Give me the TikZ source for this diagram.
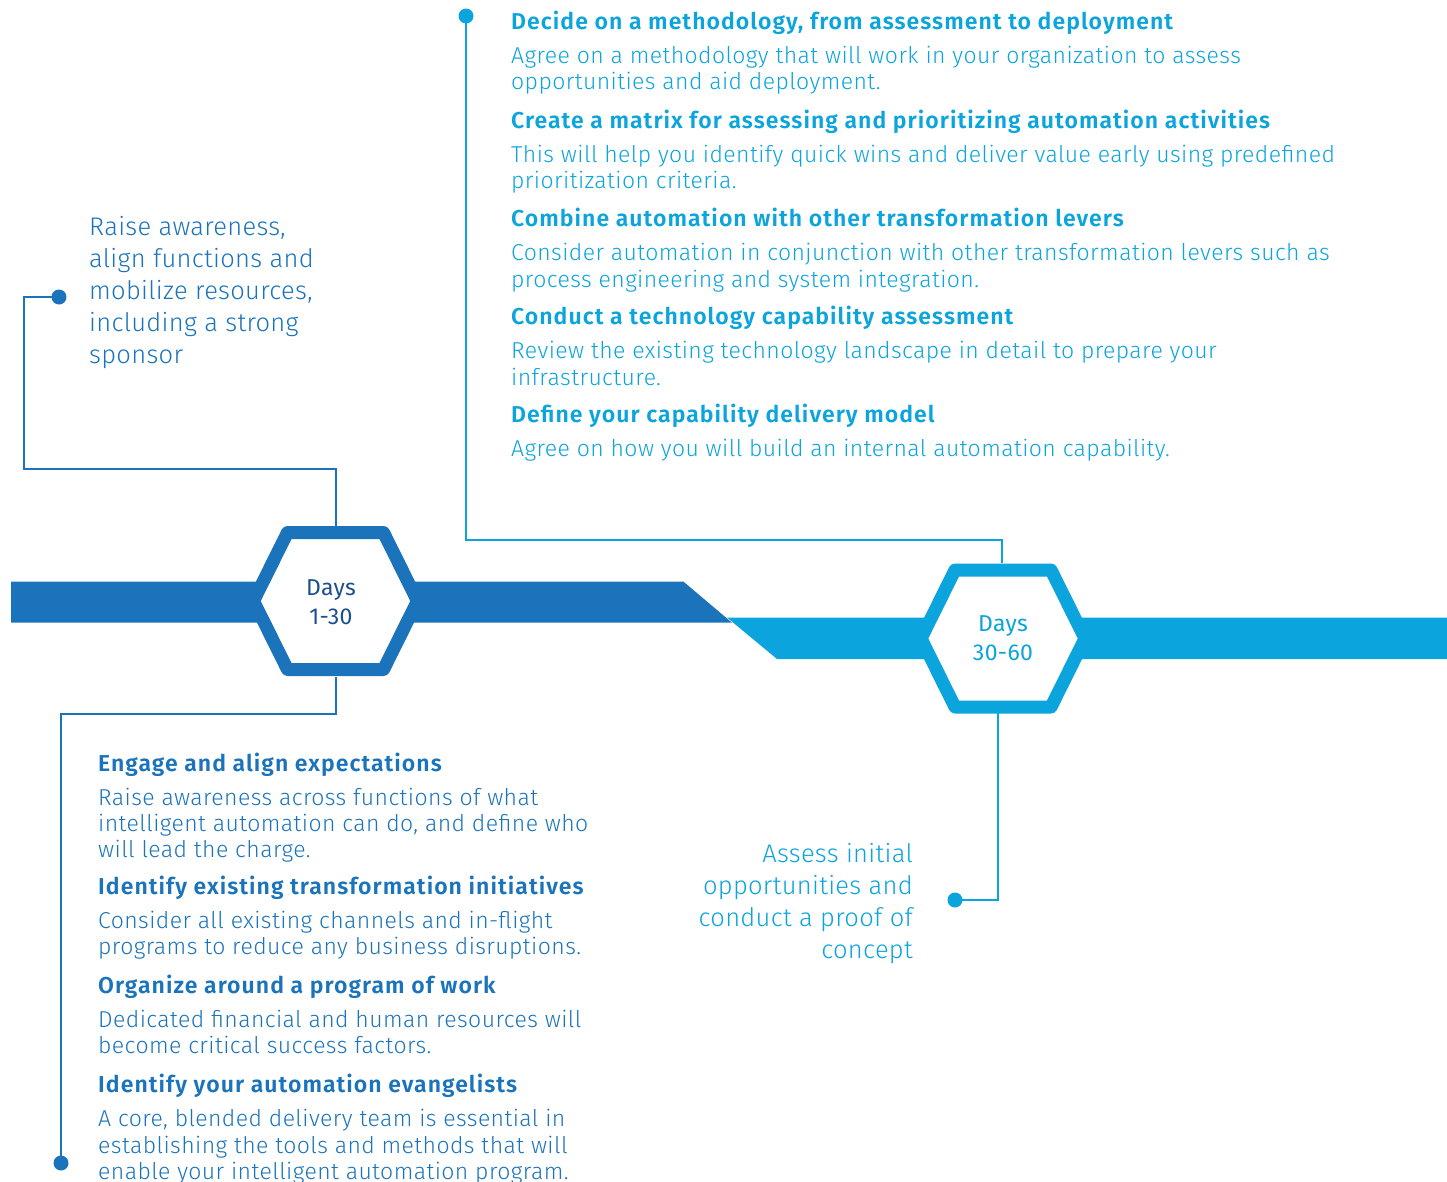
\documentclass[tikz,border=0pt]{standalone}
\usepackage{fontspec}
\setmainfont{Fira Sans Light}[LetterSpace=1.8]
\newfontfamily\headfont{Fira Sans SemiBold}[LetterSpace=4.5]
\newfontfamily\bigfont{Fira Sans Light}[LetterSpace=1.2]
\newfontfamily\regfont{Fira Sans}[LetterSpace=1.5]
\usetikzlibrary{backgrounds}
\definecolor{dkblue}{HTML}{1B74BB}
\definecolor{ltblue}{HTML}{0BA4DD}
\definecolor{navy}{HTML}{1D4F8F}
\newcommand{\itemtext}[3]{\parbox[t]{#1}{\raggedright\fontsize{23}{26.3}\selectfont{\headfont #2}\\[8pt]#3}}
\newcommand{\bigtext}[2]{\parbox[t]{300pt}{#1\bigfont\fontsize{25.5}{32}\selectfont #2}}
\begin{document}
\begin{tikzpicture}[x=1pt,y=-1pt,
  conn/.style={line width=2.5pt},
  dot/.style={circle,fill,inner sep=0pt,minimum size=15pt},
  hexlabel/.style={minimum width=166pt,minimum height=150pt,inner sep=0pt,align=center,font=\regfont\fontsize{23}{29}\selectfont},
  hexshape/.style={line width=13pt,line join=round,fill=white},
  blk/.style={anchor=base west,inner sep=0pt}]
\useasboundingbox (0,0) rectangle (1447,1181);

% ---------- texts and named nodes ----------
\node[hexlabel,text=navy] (hex1) at (331,602) {Days\\1-30};
\node[hexlabel,text=ltblue] (hex2) at (1003,638) {Days\\30-60};

\node[dot,dkblue] (d1) at (59,297) {};
\node[dot,dkblue] (d2) at (61,1163) {};
\node[dot,ltblue] (d3) at (466,16) {};
\node[dot,ltblue] (d4) at (955,900) {};

\coordinate (w1) at (24,469);
\coordinate (w2) at (61,714);
\coordinate (w3) at (466,540);

\node[blk,text=dkblue] (lt) at (89,235) {\bigtext{\raggedright}{Raise awareness,\\align functions and\\mobilize resources,\\including a strong\\sponsor}};
\node[anchor=base east,inner sep=0pt,text=ltblue] (rt) at (913,862) {\bigtext{\raggedleft}{Assess initial\\opportunities and\\conduct a proof of\\concept}};

\begin{scope}[text=ltblue]
\node[blk] (a1) at (511,29) {\itemtext{900pt}{Decide on a methodology, from assessment to deployment}{Agree on a methodology that will work in your organization to assess\\opportunities and aid deployment.}};
\node[blk] (a2) at (511,128) {\itemtext{900pt}{Create a matrix for assessing and prioritizing automation activities}{This will help you identify quick wins and deliver value early using predefined\\prioritization criteria.}};
\node[blk] (a3) at (511,226.5) {\itemtext{900pt}{Combine automation with other transformation levers}{Consider automation in conjunction with other transformation levers such as\\process engineering and system integration.}};
\node[blk] (a4) at (511,324.5) {\itemtext{900pt}{Conduct a technology capability assessment}{Review the existing technology landscape in detail to prepare your\\infrastructure.}};
\node[blk] (a5) at (511,422.5) {\itemtext{900pt}{Define your capability delivery model}{Agree on how you will build an internal automation capability.}};
\end{scope}

\begin{scope}[text=dkblue]
\node[blk] (b1) at (98,771) {\itemtext{700pt}{Engage and align expectations}{Raise awareness across functions of what\\intelligent automation can do, and define who\\will lead the charge.}};
\node[blk] (b2) at (98,894) {\itemtext{700pt}{Identify existing transformation initiatives}{Consider all existing channels and in-flight\\programs to reduce any business disruptions.}};
\node[blk] (b3) at (98,993) {\itemtext{700pt}{Organize around a program of work}{Dedicated financial and human resources will\\become critical success factors.}};
\node[blk] (b4) at (98,1092.5) {\itemtext{700pt}{Identify your automation evangelists}{A core, blended delivery team is essential in\\establishing the tools and methods that will\\enable your intelligent automation program.}};
\end{scope}

% ---------- background: bars, connectors, hexagons ----------
\begin{scope}[on background layer]
\fill[dkblue] (11,581.5) -- (683.3,581.5) -- (732,622.7) -- (11,622.7) -- cycle;
\fill[ltblue] (727,617.5) -- (1447,617.5) -- (1447,659) -- (777,659) -- cycle;

\draw[conn,dkblue] ([xshift=5pt]hex1.north) |- (w1) |- (d1.center);
\draw[conn,dkblue] ([xshift=5pt]hex1.south) |- (w2) -- (d2.center);
\draw[conn,ltblue] ([xshift=-1pt]hex2.north) |- (w3) -- (d3.center);
\draw[conn,ltblue] ([xshift=-5pt]hex2.south) |- (d4.center);

\begin{scope}[shift={(335.5,601)}]
\draw[hexshape,draw=dkblue] (-82,0) -- (-48,-68.5) -- (48,-68.5) -- (82,0) -- (48,68.5) -- (-48,68.5) -- cycle;
\end{scope}
\begin{scope}[shift={(1003,638.5)}]
\draw[hexshape,draw=ltblue] (-82,0) -- (-48,-68.5) -- (48,-68.5) -- (82,0) -- (48,68.5) -- (-48,68.5) -- cycle;
\end{scope}
\end{scope}
\end{tikzpicture}
\end{document}
